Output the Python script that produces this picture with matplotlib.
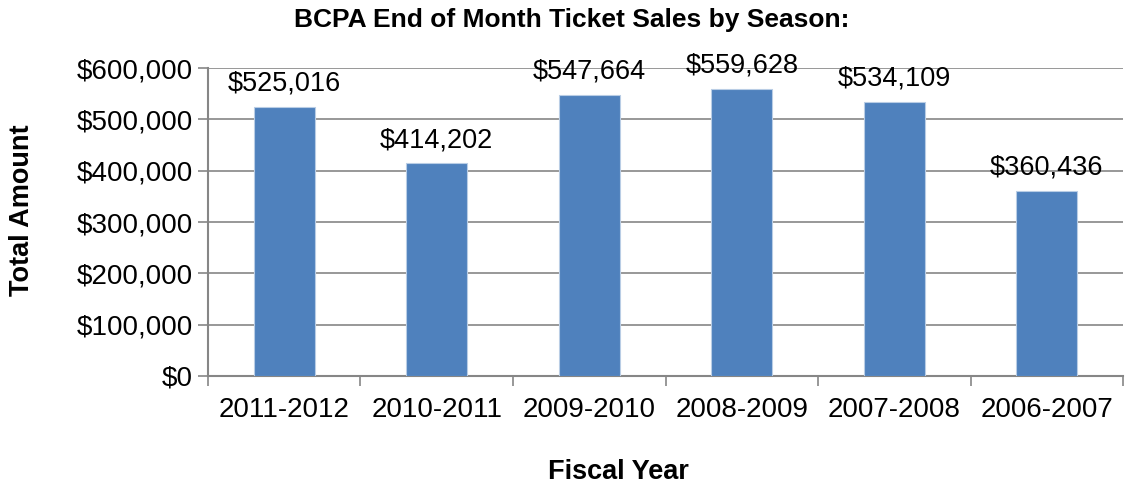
import matplotlib
matplotlib.use('Agg')
import matplotlib.pyplot as plt
from matplotlib.ticker import FuncFormatter, FixedLocator

# Ticket sales per season
seasons = ['2011-2012', '2010-2011', '2009-2010', '2008-2009', '2007-2008', '2006-2007']
sales = [525016, 414202, 547664, 559628, 534109, 360436]

plt.rcParams['font.family'] = ['Liberation Sans', 'DejaVu Sans']
grid_color = '#868686'

fig = plt.figure(figsize=(11.3, 4.87), dpi=100)
ax = fig.add_axes([0.184, 0.228, 0.81, 0.632])

x = range(len(seasons))
bars = ax.bar(x, sales, width=0.4, color='#4F81BD', edgecolor='#B9CDE5', linewidth=0.8, zorder=3)
for b, v in zip(bars, sales):
    ax.text(b.get_x() + b.get_width() / 2, v + 20000, '${:,}'.format(v),
            ha='center', va='bottom', fontsize=19.5)

ax.set_xlim(-0.5, len(seasons) - 0.5)
ax.set_ylim(0, 600000)
ax.set_yticks(range(0, 600001, 100000))
ax.yaxis.set_major_formatter(FuncFormatter(lambda v, p: '${:,.0f}'.format(v)))
ax.set_xticks(list(x))
ax.set_xticklabels(seasons)
ax.xaxis.set_minor_locator(FixedLocator([i - 0.5 for i in range(len(seasons) + 1)]))
ax.tick_params(axis='x', which='major', length=0, labelsize=20, pad=15)
ax.tick_params(axis='x', which='minor', length=7, color=grid_color, width=1.2)
ax.tick_params(axis='y', length=7, color=grid_color, width=1.2, labelsize=20, pad=4)

ax.grid(axis='y', color=grid_color, linewidth=1.2, zorder=0)
for s in ['top', 'right']:
    ax.spines[s].set_visible(False)
for s in ['left', 'bottom']:
    ax.spines[s].set_color(grid_color)
    ax.spines[s].set_linewidth(1.5)

fig.text(0.506, 0.959, 'BCPA End of Month Ticket Sales by Season:', fontsize=19,
         fontweight='bold', ha='center', va='center')
fig.text(0.547, 0.031, 'Fiscal Year', fontsize=19.5, fontweight='bold', ha='center', va='center')
fig.text(0.0195, 0.569, 'Total Amount', fontsize=19.5, fontweight='bold', ha='center',
         va='center', rotation=90)

fig.savefig('out.png', dpi=100)
